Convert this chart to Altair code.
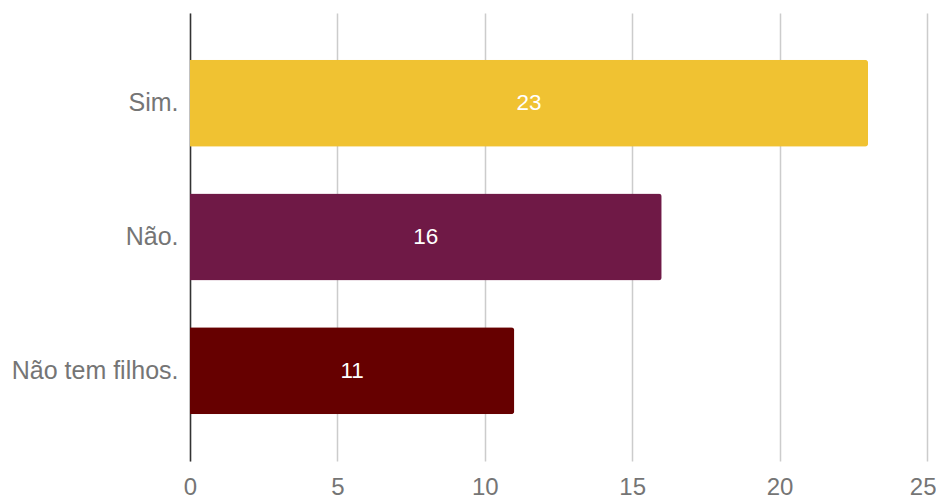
import altair as alt
import pandas as pd

categories = ["Sim.", "Não.", "Não tem filhos."]
values = [23, 16, 11]
colors = ["#F0C232", "#6F1946", "#660000"]
x_ticks = [0, 5, 10, 15, 20, 25]

df = pd.DataFrame({"cat": categories, "val": values, "color": colors})

FONT = "Liberation Sans"

y = alt.Y("cat:N", sort=categories, title=None,
          scale=alt.Scale(paddingInner=0.35, paddingOuter=0.35),
          axis=alt.Axis(labelFont=FONT, labelFontSize=25, labelColor="#757575",
                        labelPadding=12, ticks=False, domain=True,
                        domainColor="#333333", domainWidth=1.5, grid=False))
x = alt.X("val:Q", title=None,
          scale=alt.Scale(domain=[0, 25], nice=False),
          axis=alt.Axis(values=x_ticks, labelFont=FONT, labelFontSize=24,
                        labelColor="#757575", labelPadding=14, labelFlush=False,
                        labelAlign=alt.expr("datum.value == 25 ? 'right' : 'center'"),
                        labelOffset=alt.expr("datum.value == 25 ? 9 : 0"),
                        ticks=False, domain=False,
                        grid=True, gridColor="#CCCCCC", gridWidth=1.5))

bars = alt.Chart(df).mark_bar(cornerRadiusTopRight=3, cornerRadiusBottomRight=3).encode(
    y=y, x=x, color=alt.Color("color:N", scale=None))

labels = alt.Chart(df).transform_calculate(mid="datum.val / 2").mark_text(
    font=FONT, fontSize=22.5, color="white", baseline="middle", align="center").encode(
    y=alt.Y("cat:N", sort=categories),
    x=alt.X("mid:Q"),
    text=alt.Text("val:Q"))

chart = alt.layer(bars, labels).properties(
    width=737, height=448,
    background="white",
    autosize=alt.AutoSizeParams(type="none"),
    padding={"left": 182, "top": 5, "right": 9, "bottom": 40},
).configure_view(strokeWidth=0, stroke="transparent")

chart.save("out.html", embed_options={"renderer": "svg", "actions": False})
